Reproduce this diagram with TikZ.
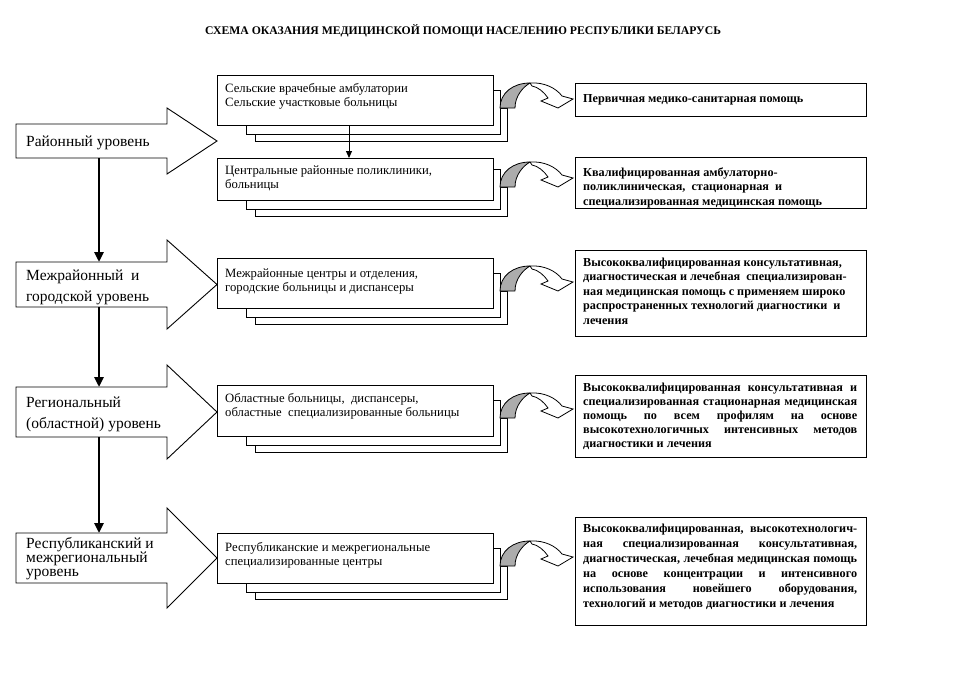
\documentclass[tikz,border=0pt]{standalone}
\usepackage{fontspec}
\setmainfont{Liberation Serif}
\usetikzlibrary{arrows.meta}
\newcommand\stackbx[4]{% name, top, height, y0 of curved arrow base
  \draw[shadowbox] (255,#4) rectangle (507,{#2+#3+16});
  \draw[shadowbox] (246,{#4-18}) rectangle (500,{#2+#3+9});
  \node[frontbox, minimum height=#3pt] (#1) at (217,#2) {};
}
\newcommand\curvarr[2]{%
  \begin{scope}[shift={(#1,#2)}]
    \draw[cgray] (0,0) .. controls (0,-15) and (13,-25) .. (30,-25)
      .. controls (23,-21) and (15,-12) .. (15,0) -- cycle;
    \draw[cwhite] (30,-25) .. controls (44,-26) and (56,-20) .. (62,-12)
      -- (73,-9) -- (58,0) -- (41,-7) -- (48,-10)
      .. controls (44,-16) and (38,-21) .. (32,-22) -- cycle;
  \end{scope}}
\newcommand\bigarr[4]{% body top, body bottom, head top, head bottom
  \draw[larrow] (16,#1) -- (167,#1) -- (167,#3) -- (217,{(#3+#4)/2})
    -- (167,#4) -- (167,#2) -- (16,#2) -- cycle;}
\newcommand\jlA[1]{\makebox[274pt][s]{#1}}
\begin{document}
\begin{tikzpicture}[x=1pt,y=-1pt,
  frontbox/.style={draw, line width=0.9pt, fill=white, anchor=north west, minimum width=276pt, inner sep=0pt},
  shadowbox/.style={draw, line width=0.9pt, fill=white},
  rbox/.style={draw, line width=0.9pt, anchor=north west, minimum width=291pt, inner sep=0pt},
  larrow/.style={draw, line width=0.9pt, fill=white, line join=miter},
  ltext/.style={anchor=base west, inner sep=0pt, font=\fontsize{15.5}{21}\selectfont},
  mtext/.style={anchor=base west, inner sep=0pt, font=\fontsize{12.7}{14.6}\selectfont},
  rtext/.style={anchor=base west, inner sep=0pt, font=\bfseries\fontsize{12.2}{14.6}\selectfont},
  vconn/.style={line width=2.6pt, -{Triangle[length=10pt,width=9pt]}},
  thinconn/.style={line width=1pt, -{Triangle[length=7pt,width=6pt]}},
  cgray/.style={fill=gray!65, draw, line width=0.8pt, line join=round},
  cwhite/.style={fill=white, draw, line width=0.8pt, line join=miter}]

\useasboundingbox (0,0) rectangle (974,689);
\fill[white] (0,0) rectangle (974,689);

% title
\node[inner sep=0pt, font=\bfseries\fontsize{11.7}{14}\selectfont] (title) at (463,31)
  {СХЕМА ОКАЗАНИЯ МЕДИЦИНСКОЙ ПОМОЩИ НАСЕЛЕНИЮ РЕСПУБЛИКИ БЕЛАРУСЬ};

% left block arrows
\bigarr{124}{158}{108}{174}
\bigarr{262}{307}{240}{329}
\bigarr{387}{437}{365}{459}
\bigarr{533}{583}{508}{608}
\coordinate (a1s) at (99,158);
\coordinate (a2n) at (99,262);
\coordinate (a2s) at (99,307);
\coordinate (a3n) at (99,387);
\coordinate (a3s) at (99,437);
\coordinate (a4n) at (99,533);

\node[ltext] (l1) at (26,146) {Районный уровень};
\node[ltext] (l2) at (26,280) {\parbox[t]{145pt}{Межрайонный\ \ и\\городской уровень}};
\node[ltext] (l3) at (26,407) {\parbox[t]{145pt}{Региональный\\(областной) уровень}};
\node[ltext, font=\fontsize{15.5}{14}\selectfont] (l4) at (26,548)
  {\parbox[t]{145pt}{Республиканский и\\межрегиональный\\уровень}};

\draw[vconn] (a1s) -- (a2n);
\draw[vconn] (a2s) -- (a3n);
\draw[vconn] (a3s) -- (a4n);

% middle stacked boxes
\stackbx{b1}{75}{50}{108}
\stackbx{b2}{158}{42}{187}
\stackbx{b3}{258}{50}{291}
\stackbx{b4}{385}{51}{418}
\stackbx{b5}{533}{50}{566}

\node[mtext] (t1) at (225,92) {\parbox[t]{265pt}{Сельские врачебные амбулатории\\Сельские участковые больницы}};
\node[mtext] (t2) at (225,174) {\parbox[t]{265pt}{Центральные районные поликлиники,\\больницы}};
\node[mtext] (t3) at (225,277) {\parbox[t]{265pt}{Межрайонные центры и отделения,\\городские больницы и диспансеры}};
\node[mtext] (t4) at (225,402) {\parbox[t]{265pt}{Областные больницы,\ \ диспансеры,\\областные\ \ специализированные больницы}};
\node[mtext] (t5) at (225,551) {\parbox[t]{265pt}{Республиканские и межрегиональные\\специализированные центры}};

\draw[thinconn] (b1.south -| 349,0) -- (b2.north -| 349,0);

% curved arrows
\curvarr{500}{108}
\curvarr{500}{187}
\curvarr{500}{291}
\curvarr{500}{418}
\curvarr{500}{566}

% right boxes
\node[rbox, minimum height=33pt] (r1) at (575,83) {};
\node[rbox, minimum height=51pt] (r2) at (575,157) {};
\node[rbox, minimum height=86pt] (r3) at (575,250) {};
\node[rbox, minimum height=82pt] (r4) at (575,375) {};
\node[rbox, minimum height=108pt] (r5) at (575,517) {};

\node[rtext] (s1) at (583,102) {Первичная медико-санитарная помощь};
\node[rtext] (s2) at (583,176) {\parbox[t]{280pt}{Квалифицированная амбулаторно-\\поликлиническая,\ \ стационарная\ \ и\\специализированная медицинская помощь}};
\node[rtext] (s3) at (583,266) {\parbox[t]{280pt}{Высококвалифицированная консультативная,\\диагностическая и лечебная\ \ специализирован-\\ная медицинская помощь с применяем широко\\распространенных технологий диагностики\ \ и\\лечения}};
\node[rtext, font=\bfseries\fontsize{12.2}{14}\selectfont] (s4) at (583,391) {\parbox[t]{280pt}{\jlA{Высококвалифицированная консультативная и}\\\jlA{специализированная стационарная медицинская}\\\jlA{помощь по всем профилям на основе}\\\jlA{высокотехнологичных интенсивных методов}\\диагностики и лечения}};
\node[rtext, font=\bfseries\fontsize{12.2}{15}\selectfont] (s5) at (583,532) {\parbox[t]{280pt}{\jlA{Высококвалифицированная, высокотехнологич-}\\\jlA{ная специализированная консультативная,}\\\jlA{диагностическая, лечебная медицинская помощь}\\\jlA{на основе концентрации и интенсивного}\\\jlA{использования новейшего оборудования,}\\технологий и методов диагностики и лечения}};
\end{tikzpicture}
\end{document}
